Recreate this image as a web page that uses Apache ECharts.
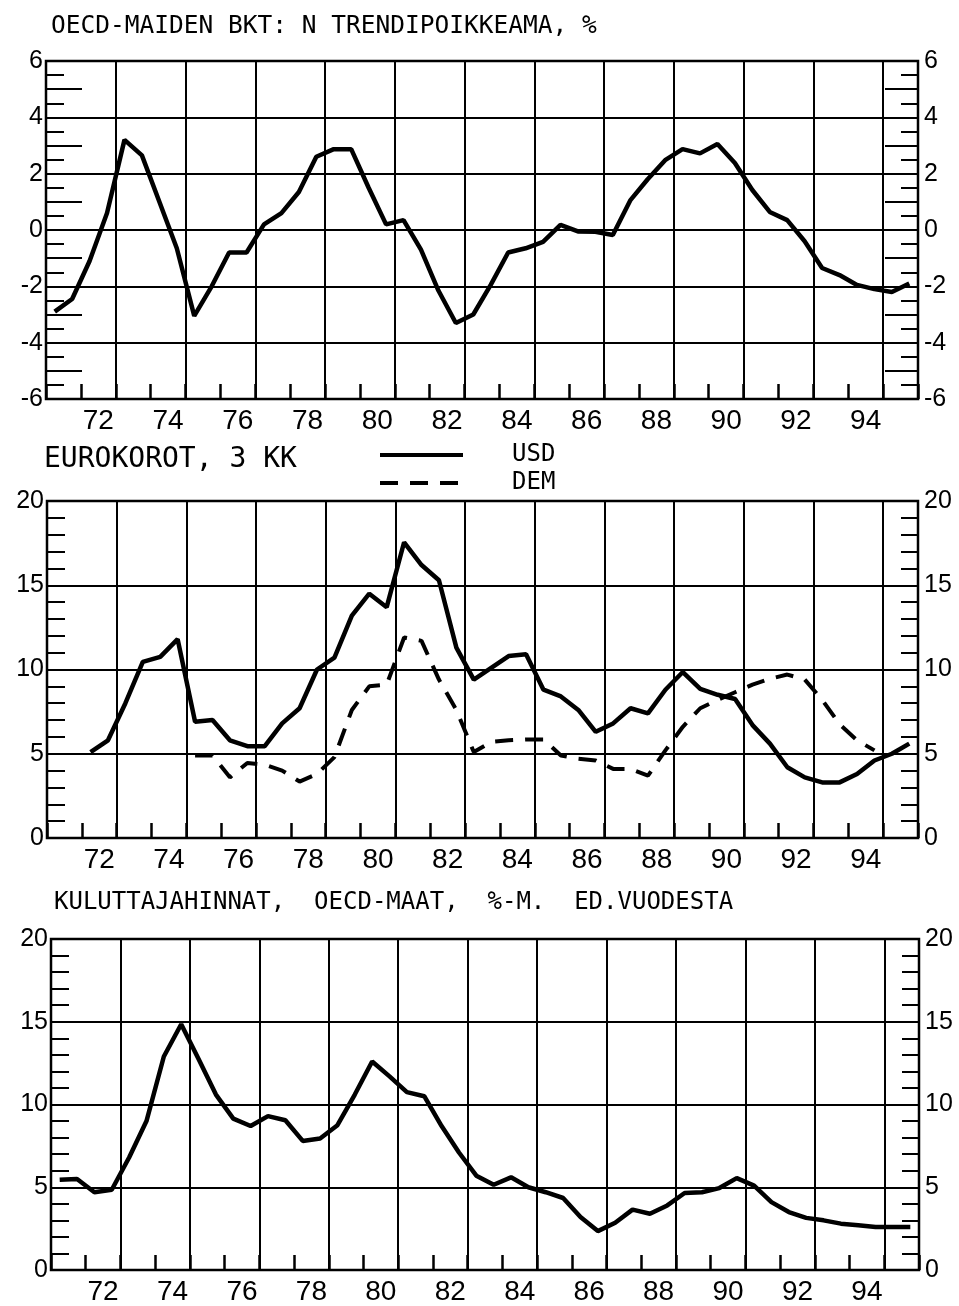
<!DOCTYPE html>
<html><head><meta charset="utf-8">
<script src="https://cdn.jsdelivr.net/npm/echarts@6/dist/echarts.min.js"></script>
<style>html,body{margin:0;padding:0;background:#fff}#c{width:959px;height:1306px}</style>
</head><body><div id="c"></div>
<script>
// ---- data ----
const yearCategories = ['71','72','73','74','75','76','77','78','79','80','81','82','83','84','85','86','87','88','89','90','91','92','93','94','95'];
const halfYears = [71.25,71.75,72.25,72.75,73.25,73.75,74.25,74.75,75.25,75.75,76.25,76.75,77.25,77.75,78.25,78.75,79.25,79.75,80.25,80.75,81.25,81.75,82.25,82.75,83.25,83.75,84.25,84.75,85.25,85.75,86.25,86.75,87.25,87.75,88.25,88.75,89.25,89.75,90.25,90.75,91.25,91.75,92.25,92.75,93.25,93.75,94.25,94.75,95.25,95.75];
const gdpGap = [-2.9,-2.45,-1.1,0.6,3.2,2.65,1.0,-0.65,-3.05,-2.0,-0.8,-0.8,0.2,0.6,1.35,2.6,2.87,2.87,1.5,0.2,0.35,-0.7,-2.15,-3.3,-3.0,-1.95,-0.8,-0.65,-0.42,0.18,-0.05,-0.06,-0.18,1.05,1.8,2.48,2.87,2.72,3.05,2.38,1.42,0.64,0.35,-0.4,-1.35,-1.6,-1.95,-2.1,-2.2,-1.9];
const usdRate = [null,null,5.1,5.8,8.0,10.45,10.75,11.8,6.9,7.0,5.8,5.45,5.45,6.8,7.7,10.0,10.7,13.2,14.5,13.7,17.55,16.2,15.3,11.3,9.4,10.1,10.8,10.9,8.8,8.4,7.6,6.3,6.8,7.7,7.4,8.8,9.85,8.85,8.5,8.25,6.7,5.6,4.2,3.6,3.3,3.3,3.8,4.6,5.0,5.6];
const demRate = [null,null,null,null,null,null,null,null,4.9,4.9,3.6,4.45,4.35,4.0,3.35,3.8,4.8,7.6,9.0,9.1,11.9,11.7,9.4,7.6,5.1,5.7,5.8,5.85,5.85,4.9,4.7,4.6,4.1,4.1,3.7,5.2,6.6,7.7,8.2,8.65,9.1,9.45,9.7,9.4,8.2,6.75,5.8,5.2,null,null];
const consumerPrices = [5.45,5.5,4.7,4.85,6.8,9.0,12.9,14.85,12.75,10.6,9.15,8.7,9.3,9.05,7.8,7.95,8.75,10.6,12.6,11.7,10.75,10.5,8.7,7.1,5.7,5.15,5.6,5.0,4.7,4.35,3.2,2.35,2.85,3.65,3.4,3.9,4.65,4.7,4.95,5.55,5.1,4.1,3.5,3.15,3.0,2.8,2.7,2.6,2.6,2.6];
const panelTitles = ['OECD-MAIDEN BKT: N TRENDIPOIKKEAMA, %', 'EUROKOROT, 3 KK', 'KULUTTAJAHINNAT,  OECD-MAAT,  %-M.  ED.VUODESTA'];
const seriesNames = ['USD', 'DEM'];

// ---- styling / layout ----
const FONT = 'Liberation Sans';
const MONO = 'DejaVu Sans Mono';
const BLACK = '#000';
const grids = [
  {left: 46, top: 61, width: 872, height: 338},
  {left: 47, top: 501, width: 871, height: 337},
  {left: 51, top: 939, width: 868, height: 334}
];
const pairs = (vals) => halfYears.map((x, i) => [x, vals[i]]);

const xAxes = [];
grids.forEach((g, i) => {
  xAxes.push({
    type: 'category', gridIndex: i, data: yearCategories, boundaryGap: true, position: 'bottom',
    axisLine: {show: false, onZero: false},
    axisTick: {show: true, inside: true, length: 15, interval: 0, lineStyle: {color: BLACK, width: 2.5}},
    axisLabel: {interval: (idx, v) => Number(v) % 2 === 0, color: BLACK, fontSize: 28, fontFamily: FONT, margin: 8},
    splitLine: {show: true, interval: (idx, v) => idx > 0 && Number(v) % 2 === 1, lineStyle: {color: BLACK, width: 2}}
  });
  xAxes.push({type: 'value', gridIndex: i, min: 71, max: 96, show: false, axisLine: {onZero: false}});
});

function yPair(gridIndex, min, max, interval, minorSplit) {
  const label = {color: BLACK, fontSize: 25, fontFamily: FONT};
  return [
    {type: 'value', gridIndex, min, max, interval, position: 'left',
     axisLine: {show: false, onZero: false},
     axisTick: {show: true, inside: true, length: 18, lineStyle: {color: BLACK, width: 2}},
     minorTick: {show: true, splitNumber: minorSplit, length: 18, lineStyle: {color: BLACK, width: 2}},
     axisLabel: Object.assign({margin: 3}, label),
     splitLine: {show: true, lineStyle: {color: BLACK, width: 2}}},
    {type: 'value', gridIndex, min, max, interval, position: 'right',
     axisLine: {show: false, onZero: false},
     axisTick: {show: true, inside: true, length: 17, lineStyle: {color: BLACK, width: 2}},
     minorTick: {show: true, splitNumber: minorSplit, length: 17, lineStyle: {color: BLACK, width: 2}},
     axisLabel: Object.assign({margin: 6}, label),
     splitLine: {show: false}}
  ];
}
const p1 = yPair(0, -6, 6, 2, 4);
const yAxes = [
  p1[0],
  {type: 'value', gridIndex: 0, min: -6, max: 6, interval: 1, position: 'left',
   axisLine: {show: false, onZero: false}, axisLabel: {show: false}, splitLine: {show: false},
   axisTick: {show: true, inside: true, length: 36, lineStyle: {color: BLACK, width: 2}}},
  p1[1],
  {type: 'value', gridIndex: 0, min: -6, max: 6, interval: 1, position: 'right',
   axisLine: {show: false, onZero: false}, axisLabel: {show: false}, splitLine: {show: false},
   axisTick: {show: true, inside: true, length: 33, lineStyle: {color: BLACK, width: 2}}},
  ...yPair(1, 0, 20, 5, 5),
  ...yPair(2, 0, 20, 5, 5)
];

const lineBase = {type: 'line', symbol: 'none', silent: true, animation: false};
const titleStyle = (size) => ({fontSize: size, fontWeight: 'normal', color: BLACK, fontFamily: MONO});

const option = {
  backgroundColor: '#fff',
  animation: false,
  title: [
    {text: panelTitles[0], left: 51, top: 14, padding: 0, textStyle: titleStyle(24.5)},
    {text: panelTitles[1], left: 44, top: 446, padding: 0, textStyle: titleStyle(28)},
    {text: panelTitles[2], left: 54, top: 891, padding: 0, textStyle: titleStyle(24)}
  ],
  legend: {
    data: seriesNames, orient: 'vertical', left: 378, top: 443, padding: 0,
    itemWidth: 83, itemHeight: 16, itemGap: 4,
    lineStyle: {width: 4},
    itemStyle: {opacity: 0},
    textStyle: {fontSize: 24, lineHeight: 16, fontFamily: MONO, color: BLACK, padding: [8, 0, 0, 44]}
  },
  grid: grids.map(g => Object.assign({show: true, borderColor: BLACK, borderWidth: 2.5, backgroundColor: 'transparent'}, g)),
  xAxis: xAxes,
  yAxis: yAxes,
  series: [
    Object.assign({}, lineBase, {name: 'gdp', xAxisIndex: 1, yAxisIndex: 0, data: pairs(gdpGap),
      lineStyle: {color: BLACK, width: 4.5}}),
    Object.assign({}, lineBase, {name: seriesNames[0], xAxisIndex: 3, yAxisIndex: 4, data: pairs(usdRate),
      itemStyle: {color: BLACK}, lineStyle: {color: BLACK, width: 4.5}}),
    Object.assign({}, lineBase, {name: seriesNames[1], xAxisIndex: 3, yAxisIndex: 4, data: pairs(demRate),
      itemStyle: {color: BLACK}, lineStyle: {color: BLACK, width: 4, type: [18, 12]}}),
    Object.assign({}, lineBase, {name: 'cpi', xAxisIndex: 5, yAxisIndex: 6, data: pairs(consumerPrices),
      lineStyle: {color: BLACK, width: 4.5}})
  ]
};
const chart = echarts.init(document.getElementById('c'), null, {renderer: 'canvas'});
chart.setOption(option);
</script></body></html>
